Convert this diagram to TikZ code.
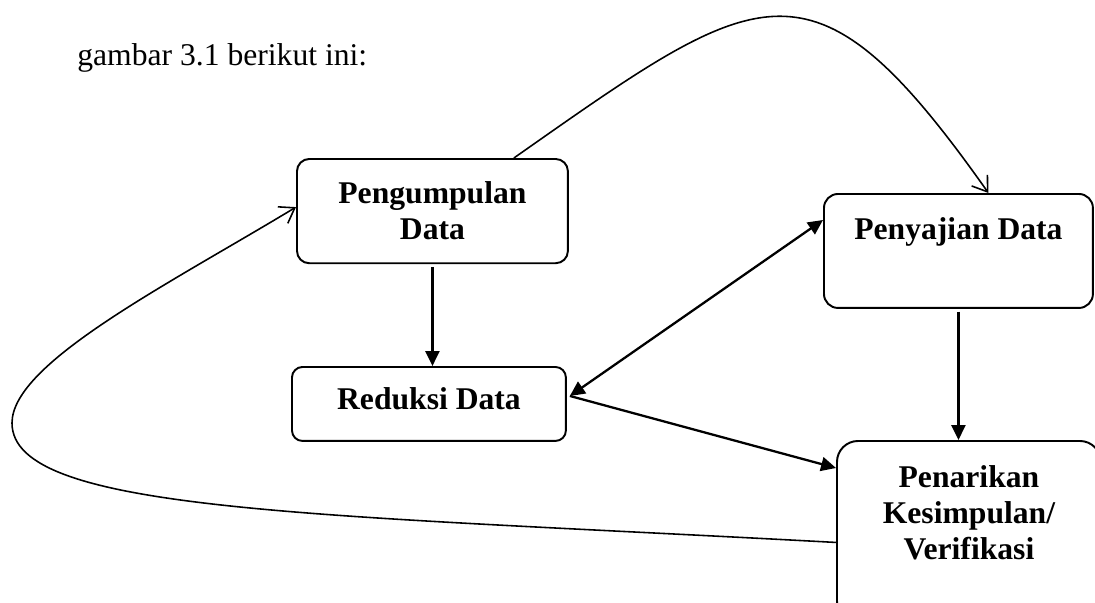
\documentclass[tikz,border=0pt]{standalone}
\usepackage{fontspec}
\setmainfont{Liberation Serif}
\usetikzlibrary{arrows.meta}

\tikzset{
  kotak/.style={draw, line width=1.1pt, anchor=north west, align=center,
    inner xsep=0pt, font=\fontsize{18}{20.5}\selectfont\bfseries},
  panah/.style={line width=1.3pt, ->},
  lengkung/.style={line width=0.9pt, -{Straight Barb[length=8pt,width=11pt]}},
}

\begin{document}
\begin{tikzpicture}[x=0.02cm, y=-0.02cm, >={Triangle[length=8.5pt,width=8pt]}]
\useasboundingbox (0,0) rectangle (1095,602);

\node[anchor=base west, inner sep=0pt, font=\fontsize{18}{20.5}\selectfont] (judul) at (77,65) {gambar 3.1 berikut ini:};

% kotak-kotak
\node[kotak, rounded corners=7pt, minimum width=5.42cm, inner ysep=0.46cm] (kumpul) at (296,158) {Pengumpulan\\Data};
\node[kotak, rounded corners=6pt, minimum width=5.48cm, inner ysep=0pt, text height=0.86cm, text depth=0.62cm] (reduksi) at (291,366) {Reduksi Data};
\node[kotak, rounded corners=8pt, minimum width=5.38cm, inner ysep=0pt, text height=0.92cm, text depth=1.36cm] (sajian) at (823,193) {Penyajian Data};
\node[kotak, rounded corners=12pt, minimum width=5.28cm, inner ysep=0.5cm, text depth=0.74cm] (tarik) at (836,440) {Penarikan\\Kesimpulan/\\Verifikasi};

% panah lurus
\coordinate (rd) at ([shift={(3,-8)}]reduksi.east);
\draw[panah] ([yshift=-1.5pt]kumpul.south) -- (kumpul.south |- reduksi.north);
\draw[panah] ([yshift=-1.5pt]sajian.south) -- (sajian.south |- tarik.north);
\draw[panah, <->] (rd) -- ([yshift=-0.54cm]sajian.north west);
\draw[panah] (rd) -- ([yshift=-0.56cm]tarik.north west);

% lengkung
\draw[lengkung] ([xshift=-1.1cm]kumpul.north east) .. controls (762,-16) and (812,-57) .. ([xshift=0.6cm]sajian.north);
\draw[lengkung] ([yshift=-0.22cm]tarik.west) .. controls (315,514) and (12,513) .. (12,423)
  .. controls (12,363) and (168,284.5) .. ([yshift=0.08cm]kumpul.west);

\end{tikzpicture}
\end{document}
